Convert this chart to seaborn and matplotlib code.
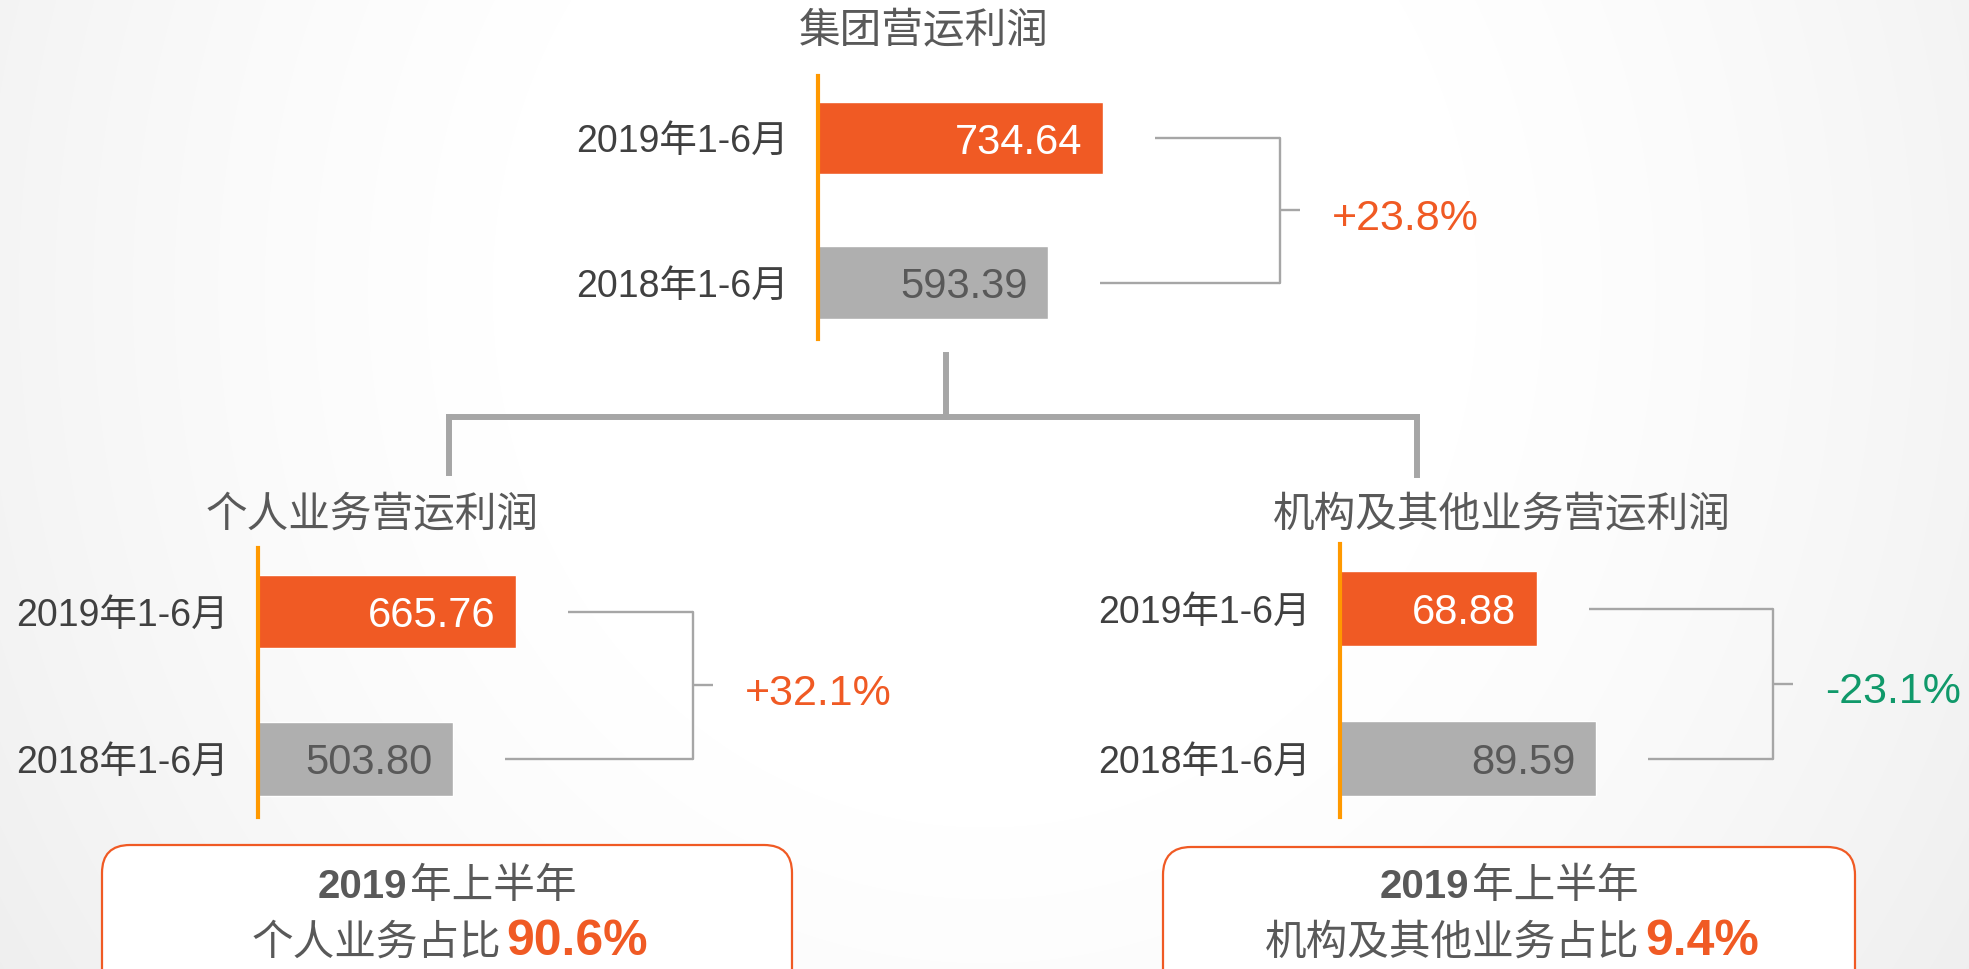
import numpy as np
import matplotlib.pyplot as plt
import seaborn as sns
from matplotlib.patches import FancyBboxPatch

# -----------------------------
# Data
# -----------------------------
periods = ["2019年1-6月", "2018年1-6月"]
group_profit = [734.64, 593.39]
personal_profit = [665.76, 503.80]
inst_profit = [68.88, 89.59]

titles = ["集团营运利润", "个人业务营运利润", "机构及其他业务营运利润"]
half_label = ["2019", "年上半年"]
share_names = ["个人业务占比", "机构及其他业务占比"]

# Colours
ORANGE = "#F05A24"
GREY_BAR = "#AFAFAF"
AXIS_ORANGE = "#FF9900"
LINE_GREY = "#A6A6A6"
TEXT_DARK = "#404040"
TEXT_MID = "#595959"
GREEN = "#10996A"

sns.set_theme(style="white")
plt.rcParams["font.family"] = ["Liberation Sans", "Noto Sans CJK SC"]
CJK = ["Noto Sans CJK SC"]

W, H = 1969, 969
fig = plt.figure(figsize=(W / 100, H / 100), dpi=100)
fig.patch.set_facecolor("white")

# soft grey vignette in the background
yy, xx = np.mgrid[0:H, 0:W]
ddx = (xx - W * 0.5) / (W * 0.5)
ddy = (yy - H * 0.3) / (H * 0.7)
shade = 1 - 0.055 * np.clip(ddx ** 2 + 0.4 * ddy ** 2 - 0.25, 0, None)
fig.figimage(np.dstack([shade] * 3), xo=0, yo=0, origin="upper", zorder=-5)

# overlay in pixel coordinates (y pointing down)
ov = fig.add_axes([0, 0, 1, 1])
ov.set_xlim(0, W)
ov.set_ylim(H, 0)
ov.axis("off")


def to_px(ax, x, y):
    px, py = ax.transData.transform((x, y))
    return px, H - py


def panel(values, axis_x, y0, sp, scale, title, title_xy):
    top = y0 - 0.43 * sp
    bottom = y0 + 1.39 * sp
    width_px = 430
    ax = fig.add_axes([axis_x / W, 1 - bottom / H, width_px / W, (bottom - top) / H])
    sns.barplot(
        x=values, y=periods, hue=periods,
        palette=[ORANGE, GREY_BAR],
        orient="h", width=0.5, saturation=1,
        dodge=False, legend=False, ax=ax
    )
    ax.set_xlim(0, width_px / scale)
    ax.set_ylim(1.39, -0.43)
    ax.set_facecolor("none")
    for s in ["top", "right", "bottom"]:
        ax.spines[s].set_visible(False)
    ax.spines["left"].set_color(AXIS_ORANGE)
    ax.spines["left"].set_linewidth(3)
    ax.set_xticks([])
    ax.set_xlabel("")
    ax.set_ylabel("")
    ax.tick_params(axis="y", length=0, pad=21, labelsize=27, labelcolor=TEXT_DARK)

    bars = sorted(ax.patches, key=lambda p: p.get_y())
    for p, v, c in zip(bars, values, ["white", TEXT_MID]):
        ax.annotate(
            f"{v:.2f}",
            (p.get_width(), p.get_y() + p.get_height() / 2),
            xytext=(-15, 0), textcoords="offset points",
            ha="right", va="center_baseline", fontsize=30, color=c
        )

    # growth bracket
    ends = [to_px(ax, p.get_width(), p.get_y() + p.get_height() / 2) for p in bars]
    bx = max(e[0] for e in ends) + 177
    for ex, ey in ends:
        ov.plot([ex + 52, bx], [ey, ey], color=LINE_GREY, lw=1.7, solid_capstyle="butt")
    ov.plot([bx, bx], [ends[0][1], ends[1][1]], color=LINE_GREY, lw=1.7)
    my = (ends[0][1] + ends[1][1]) / 2
    ov.plot([bx, bx + 20], [my, my], color=LINE_GREY, lw=1.7, solid_capstyle="butt")
    change = values[0] / values[1] - 1
    ov.text(bx + 52, my + 4, f"{change:+.1%}", fontsize=31,
            color=ORANGE if change > 0 else GREEN, ha="left", va="center_baseline")

    ov.text(title_xy[0], title_xy[1], title, fontsize=30, color=TEXT_MID,
            ha="center", va="center", family=CJK)
    return ax


panel(group_profit, 818, 138, 144.5, 0.388, titles[0], (924, 31))
panel(personal_profit, 258, 611.5, 147.5, 0.388, titles[1], (372, 515))
panel(inst_profit, 1340, 608.5, 150, 2.86, titles[2], (1502, 515))

# connector from group to the two segments
conn = dict(color=LINE_GREY, lw=4.3, solid_capstyle="projecting")
ov.plot([946, 946], [355, 417], **conn)
ov.plot([449, 1417], [417, 417], **conn)
ov.plot([449, 449], [417, 473], **conn)
ov.plot([1417, 1417], [417, 475], **conn)


# summary boxes
def mixed_line(cx, base_y, parts, gap=0):
    texts = [ov.text(0, base_y, t, ha="left", va="baseline", **kw) for t, kw in parts]
    r = fig.canvas.get_renderer()
    widths = [t.get_window_extent(r).width for t in texts]
    x = cx - (sum(widths) + gap * (len(texts) - 1)) / 2
    for t, w in zip(texts, widths):
        t.set_x(x)
        x += w + gap


shares = [personal_profit[0] / group_profit[0], inst_profit[0] / group_profit[0]]
boxes = [(102, 792, 845), (1163, 1855, 847)]
for (x0, x1, top), name, share in zip(boxes, share_names, shares):
    ov.add_patch(FancyBboxPatch(
        (x0, top), x1 - x0, 220,
        boxstyle="round,pad=0,rounding_size=28",
        ec=ORANGE, fc="white", lw=1.6, zorder=2
    ))
    cx = (x0 + x1) / 2
    mixed_line(cx, 898, [
        (half_label[0], dict(fontsize=29, fontweight="bold", color=TEXT_MID, zorder=3)),
        (half_label[1], dict(fontsize=30, color=TEXT_MID, family=CJK, zorder=3)),
    ], gap=3)
    mixed_line(cx + 3, 955, [
        (name, dict(fontsize=30, color=TEXT_MID, family=CJK, zorder=3)),
        (f"{share:.1%}", dict(fontsize=36, fontweight="bold", color=ORANGE, zorder=3)),
    ], gap=5)

plt.savefig("out.png", dpi=100)
plt.close()
